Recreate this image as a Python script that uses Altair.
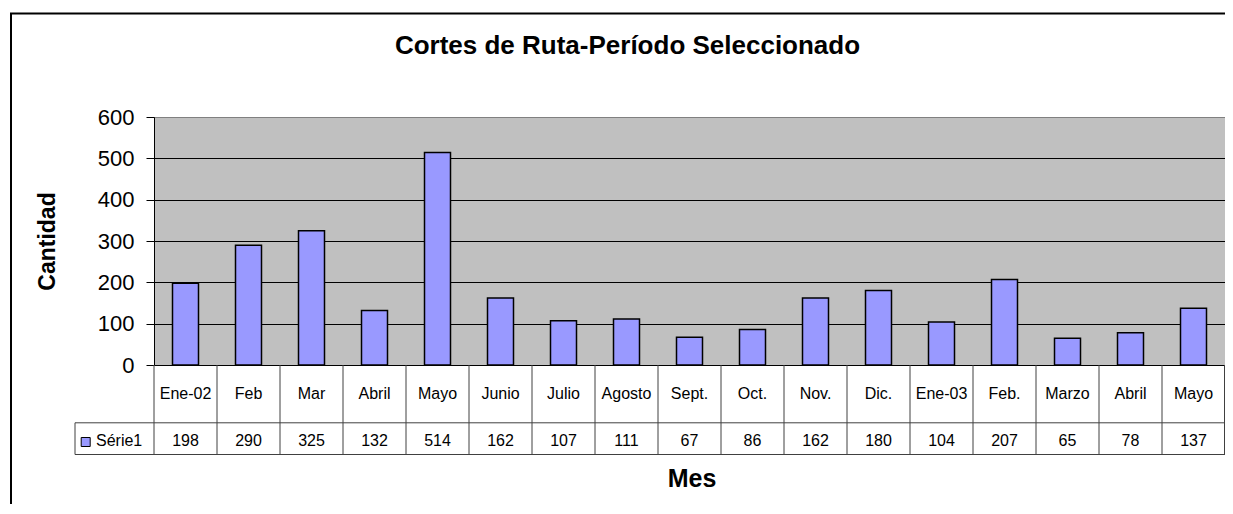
import altair as alt
import pandas as pd

# ---- data ----
meses = ["Ene-02", "Feb", "Mar", "Abril", "Mayo", "Junio", "Julio", "Agosto", "Sept.",
         "Oct.", "Nov.", "Dic.", "Ene-03", "Feb.", "Marzo", "Abril", "Mayo"]
valores = [198, 290, 325, 132, 514, 162, 107, 111, 67, 86, 162, 180, 104, 207, 65, 78, 137]
serie = "Série1"
titulo = "Cortes de Ruta-Período Seleccionado"
titulo_y = "Cantidad"
titulo_x = "Mes"
y_ticks = [0, 100, 200, 300, 400, 500, 600]

claves = [f"{i:02d}|{m}" for i, m in enumerate(meses)]
df = pd.DataFrame({"clave": claves, "mes": meses, "valor": valores})
one = pd.DataFrame({"titulo": [titulo], "mes": [titulo_x], "serie": [serie]})

FONT = "Liberation Sans"
W, H = 1071, 248
ROW1 = 305.8   # line between category row and value row
ROW2 = 337.5   # bottom of the data table
LEG_L = -79    # left edge of the legend cell
LINE = "#404040"

x_axis = alt.Axis(title=None, labelExpr="split(datum.value, '|')[1]", ticks=False,
                  domain=False, labelFontSize=16, labelFont=FONT, labelColor="black",
                  labelPadding=28.5, labelBaseline="middle", labelAngle=0,
                  labelOverlap=False, grid=False, labelLimit=0)
x_enc = alt.X("clave:N", sort=claves, axis=x_axis,
              scale=alt.Scale(paddingInner=0, paddingOuter=0))

y_axis = alt.Axis(values=y_ticks, title=titulo_y, grid=True,
                  gridColor={"condition": {"test": "datum.value === 600", "value": "#808080"},
                             "value": "#000000"},
                  gridWidth=1, domain=True, domainColor="#000000", domainWidth=1,
                  ticks=True, tickSize=8, tickColor="#000000",
                  labelFontSize=22, labelFont=FONT, labelColor="black", labelPadding=12,
                  titleFont=FONT, titleFontSize=23, titleFontWeight="bold", titleColor="black",
                  titleAngle=270, titleX=-107, titleY=124, titleAlign="center",
                  titleBaseline="middle")

border = alt.Chart(one).mark_rect(fillOpacity=0, stroke="black", strokeWidth=2).encode(
    x=alt.value(-143), x2=alt.value(W + 60), y=alt.value(-103.5), y2=alt.value(H + 300))

bars = alt.Chart(df).mark_bar(width=26, color="#9999FF", stroke="black", strokeWidth=1.5).encode(
    x=x_enc,
    y=alt.Y("valor:Q", scale=alt.Scale(domain=[0, 600], nice=False), axis=y_axis),
)

dividers = alt.Chart(df).mark_rule(color=LINE, strokeWidth=1).encode(
    x=alt.X("clave:N", sort=claves, bandPosition=0), y=alt.value(H), y2=alt.value(ROW2))

right_edge = alt.Chart(one).mark_rule(color=LINE, strokeWidth=1).encode(
    x=alt.value(W - 0.5), y=alt.value(H), y2=alt.value(ROW2))
left_edge = alt.Chart(one).mark_rule(color=LINE, strokeWidth=1).encode(
    x=alt.value(LEG_L), y=alt.value(ROW1), y2=alt.value(ROW2))
h1 = alt.Chart(one).mark_rule(color=LINE, strokeWidth=1).encode(
    x=alt.value(LEG_L), x2=alt.value(W), y=alt.value(ROW1))
h2 = alt.Chart(one).mark_rule(color=LINE, strokeWidth=1).encode(
    x=alt.value(LEG_L), x2=alt.value(W), y=alt.value(ROW2))

vals = alt.Chart(df).mark_text(fontSize=16, font=FONT, baseline="middle", color="black").encode(
    x=alt.X("clave:N", sort=claves), y=alt.value(323.5), text="valor:Q")

leg_sq = alt.Chart(one).mark_square(size=81, filled=True, fill="#9999FF", stroke="black",
                                    strokeWidth=1, opacity=1).encode(
    x=alt.value(-68.3), y=alt.value(325))
leg_tx = alt.Chart(one).mark_text(fontSize=16, font=FONT, align="left", baseline="middle",
                                  color="black").encode(
    x=alt.value(-58), y=alt.value(323.5), text="serie:N")

title_tx = alt.Chart(one).mark_text(fontSize=26, font=FONT, fontWeight="bold", align="center",
                                    baseline="middle", color="black").encode(
    x=alt.value(473.5), y=alt.value(-71), text="titulo:N")
mes_tx = alt.Chart(one).mark_text(fontSize=25, font=FONT, fontWeight="bold", align="center",
                                  baseline="middle", color="black").encode(
    x=alt.value(538), y=alt.value(361.5), text="mes:N")

chart = alt.layer(
    border, bars, dividers, right_edge, left_edge, h1, h2, vals, leg_sq, leg_tx, title_tx, mes_tx
).properties(
    width=W, height=H,
    autosize=alt.AutoSizeParams(type="none"),
    padding={"left": 146, "top": 109, "right": 0, "bottom": 139},
    background="white",
).configure_view(fill="#C0C0C0", stroke="#808080", strokeWidth=1)

chart.save("out.html", embed_options={"renderer": "svg", "actions": False})
